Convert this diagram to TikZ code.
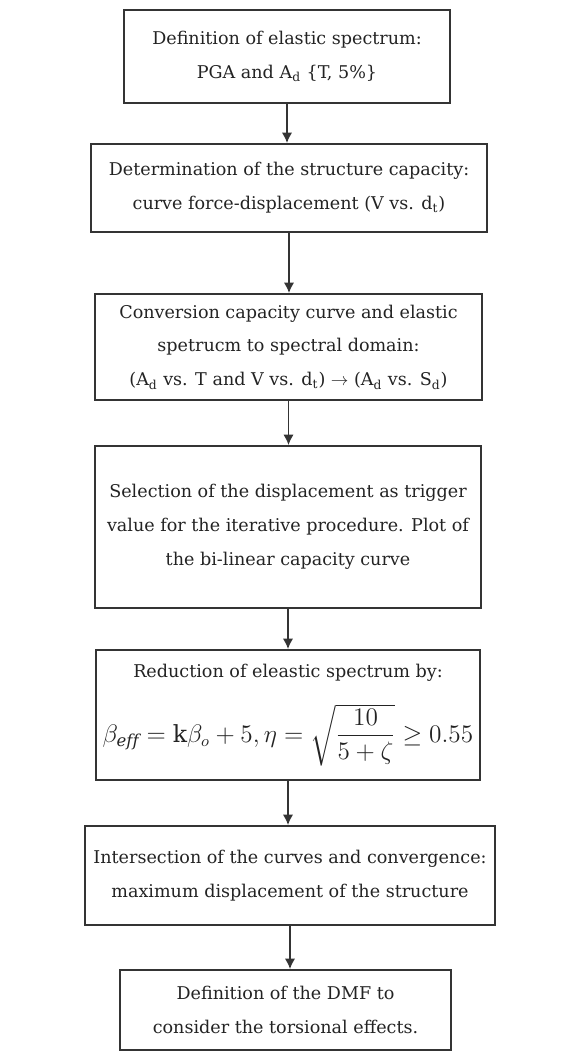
\documentclass[tikz,border=0pt]{standalone}
\usepackage{amsmath}
\usepackage{fontspec}
\setmainfont{DejaVu Serif}
\usetikzlibrary{arrows.meta,positioning}
\definecolor{boxInk}{RGB}{52,52,52}
\definecolor{textInk}{RGB}{35,35,35}
\newcommand{\flowfont}{\fontsize{10}{19.3}\selectfont}
\tikzset{
  flow box/.style={draw=boxInk,line width=1.1pt,align=center,inner sep=0pt,text=textInk,font=\flowfont},
  flow arrow/.style={-{Latex[length=2.1mm,width=2.1mm]},line width=0.95pt,draw=boxInk}
}
\begin{document}
\begin{tikzpicture}[x=0.02cm,y=-0.02cm]
  \useasboundingbox (0,0) rectangle (571,1061);
  % steps of the procedure
  \node[flow box,minimum width=6.52cm,minimum height=1.86cm] (spec) at (287,56.5)
    {Definition of elastic spectrum:\\PGA and A\textsubscript{d} \{T, 5\%\}};
  \node[flow box,minimum width=7.92cm,minimum height=1.76cm] (capa) at (289,188)
    {Determination of the structure capacity:\\curve force-displacement (V vs. d\textsubscript{t})};
  \node[flow box,minimum width=7.74cm,minimum height=2.12cm] (conv) at (288.5,347)
    {Conversion capacity curve and elastic\\spetrucm to spectral domain:\\(A\textsubscript{d} vs. T and V vs. d\textsubscript{t}) $\rightarrow$ (A\textsubscript{d} vs. S\textsubscript{d})};
  \node[flow box,minimum width=7.72cm,minimum height=3.24cm] (trig) at (288,527)
    {Selection of the displacement as trigger\\value for the iterative procedure. Plot of\\the bi-linear capacity curve};
  \node[flow box,minimum width=7.68cm,minimum height=2.60cm] (redu) at (288,715)
    {Reduction of eleastic spectrum by:\\[12pt]
     \fontsize{13.4}{15}\selectfont
     $\beta_{\mathit{eff}} = \mathrm{k}\beta_{o} + 5, \eta = \sqrt{\dfrac{10}{5+\zeta}} \geq 0.55$};
  \node[flow box,minimum width=8.20cm,minimum height=1.98cm] (inter) at (290,875.5)
    {Intersection of the curves and convergence:\\maximum displacement of the structure};
  \node[flow box,minimum width=6.62cm,minimum height=1.60cm] (dmf) at (285.5,1010)
    {Definition of the DMF to\\consider the torsional effects.};
  % connectors
  \draw[flow arrow] (spec.south) -- (spec.south |- capa.north);
  \draw[flow arrow] (capa.south) -- (capa.south |- conv.north);
  \draw[flow arrow] (conv.south) -- (conv.south |- trig.north);
  \draw[flow arrow] (trig.south) -- (trig.south |- redu.north);
  \draw[flow arrow] (redu.south) -- (redu.south |- inter.north);
  \draw[flow arrow] (inter.south) -- (inter.south |- dmf.north);
\end{tikzpicture}
\end{document}
